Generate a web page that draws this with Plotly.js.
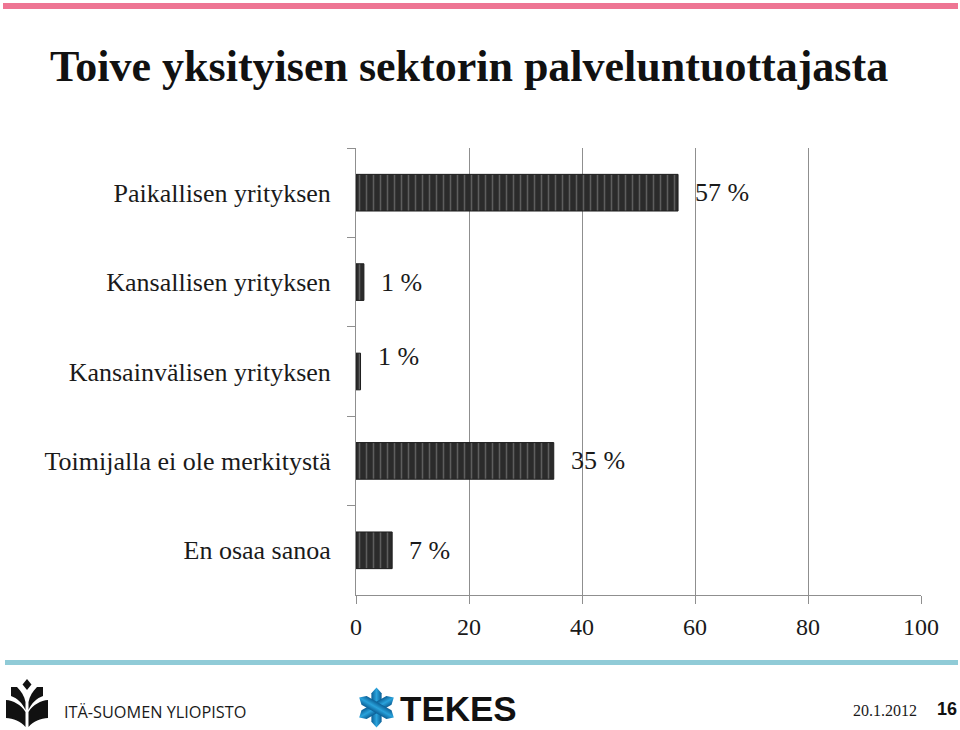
<!DOCTYPE html>
<html><head><meta charset="utf-8">
<script src="https://cdn.plot.ly/plotly-3.0.1.min.js"></script>
<style>html,body{margin:0;padding:0;background:#fff}#chart{width:960px;height:730px}</style>
</head><body><div id="chart"></div>
<script>
const categories = ["Paikallisen yrityksen","Kansallisen yrityksen","Kansainvälisen yrityksen","Toimijalla ei ole merkitystä","En osaa sanoa"];
const values = [57, 1.4, 0.8, 35, 6.4];
const valueLabels = ["57 %","1 %","1 %","35 %","7 %"];
const xTicks = [0,20,40,60,80,100];

const W=960,H=730,L=356,R=39,T=148,B=135;
const pw=W-L-R, ph=H-T-B;
const px=x=>(x-L)/pw, py=y=>(H-B-y)/ph;
const serif='"Liberation Serif", "DejaVu Serif", serif';

const uefLogo='data:image/svg+xml;utf8,'+encodeURIComponent(
'<svg xmlns="http://www.w3.org/2000/svg" viewBox="0 0 48 52"><g fill="#111">'+
'<path d="M24 3 L28.5 8.5 L24 14 L19.5 8.5 Z"/>'+
'<path d="M8 11 L14 11 C18 15 21.5 20 22.5 26 L22.5 34 C19.5 27 14 22 8 20 Z"/>'+
'<path d="M40 11 L34 11 C30 15 26.5 20 25.5 26 L25.5 34 C28.5 27 34 22 40 20 Z"/>'+
'<path d="M3 24 C10 24.5 18 28.5 22.5 36 L22.5 51 C18 45 10 42.5 3 42 Z"/>'+
'<path d="M45 24 C38 24.5 30 28.5 25.5 36 L25.5 51 C30 45 38 42.5 45 42 Z"/>'+
'</g></svg>');
const tekesLogo='data:image/svg+xml;utf8,'+encodeURIComponent(
'<svg xmlns="http://www.w3.org/2000/svg" viewBox="0 0 40 40"><defs><linearGradient id="g" x1="0" y1="0" x2="1" y2="0"><stop offset="0" stop-color="#0b5f96"/><stop offset="0.5" stop-color="#2aa3dc"/><stop offset="1" stop-color="#0b5f96"/></linearGradient></defs>'+
'<g transform="translate(20 20)">'+
[0,60,120].map(a=>'<path transform="rotate('+a+')" d="M-5 -14 L0 -19.5 L5 -14 L5 14 L0 19.5 L-5 14 Z" fill="url(#g)"/>').join('')+
'</g></svg>');

const data=[{
  type:'bar', orientation:'h', x:values, y:categories,
  marker:{color:'#2b2b2b', line:{color:'#1e1e1e',width:1},
    pattern:{shape:'|', bgcolor:'#2b2b2b', fgcolor:'#5e5e5e', size:7, solidity:0.22}},
  hoverinfo:'x+y', showlegend:false
}];

const labelYShift=[0,0,15,0,0];
const annotations = categories.map((c,i)=>({
  x:values[i], y:c, xref:'x', yref:'y', text:valueLabels[i], showarrow:false,
  xanchor:'left', xshift:15, yshift:labelYShift[i], font:{family:serif,size:26,color:'#1a1a1a'}
}));
annotations.push(
  {xref:'paper',yref:'paper',x:px(62),y:py(712),xanchor:'left',yanchor:'middle',showarrow:false,
   text:'ITÄ-SUOMEN YLIOPISTO',font:{family:'"Open Sans", sans-serif',size:16.3,color:'#1a1a1a'}},
  {xref:'paper',yref:'paper',x:px(398),y:py(708),xanchor:'left',yanchor:'middle',showarrow:false,
   text:'<b>TEKES</b>',font:{family:'"Liberation Sans", Arial, sans-serif',size:35,color:'#111'}},
  {xref:'paper',yref:'paper',x:px(851),y:py(710),xanchor:'left',yanchor:'middle',showarrow:false,
   text:'20.1.2012',font:{family:serif,size:16,color:'#1a1a1a'}},
  {xref:'paper',yref:'paper',x:px(935),y:py(709),xanchor:'left',yanchor:'middle',showarrow:false,
   text:'<b>16</b>',font:{family:'"Liberation Sans", Arial, sans-serif',size:18,color:'#111'}}
);

const layout={
  width:W,height:H,paper_bgcolor:'#fff',plot_bgcolor:'#fff',
  margin:{l:L,r:R,t:T,b:B},
  title:{text:'<b>Toive yksityisen sektorin palveluntuottajasta</b>',x:50/W,xanchor:'left',xref:'container',
    y:1-66/H,yanchor:'middle',yref:'container',font:{family:serif,size:44,color:'#111'}},
  bargap:0.59,
  xaxis:{range:[0,100],tickvals:xTicks,ticktext:xTicks.map(String),showgrid:true,gridcolor:'#8f8f8f',gridwidth:1,
    zeroline:false,showline:true,linecolor:'#8f8f8f',linewidth:1,ticks:'outside',ticklen:8,tickcolor:'#8f8f8f',
    ticklabelstandoff:2,tickfont:{family:serif,size:24,color:'#1a1a1a'},fixedrange:true},
  yaxis:{type:'category',autorange:'reversed',showline:true,linecolor:'#8f8f8f',linewidth:1,
    ticks:'outside',tickson:'boundaries',ticklen:8,tickcolor:'#8f8f8f',showgrid:false,
    ticklabelstandoff:19,tickfont:{family:serif,size:26,color:'#1a1a1a'},fixedrange:true},
  shapes:[
    {type:'rect',xref:'paper',yref:'paper',x0:px(3),x1:px(958),y0:py(9),y1:py(3),fillcolor:'#ee7593',line:{width:0}},
    {type:'rect',xref:'paper',yref:'paper',x0:px(5),x1:px(958),y0:py(665),y1:py(660),fillcolor:'#90cbd7',line:{width:0}}
  ],
  images:[
    {source:uefLogo,xref:'paper',yref:'paper',x:px(3),y:py(676),sizex:48/pw,sizey:52/ph,xanchor:'left',yanchor:'top',sizing:'stretch',layer:'above'},
    {source:tekesLogo,xref:'paper',yref:'paper',x:px(356),y:py(687),sizex:41/pw,sizey:41/ph,xanchor:'left',yanchor:'top',sizing:'stretch',layer:'above'}
  ],
  annotations:annotations
};
Plotly.newPlot('chart',data,layout,{displayModeBar:false,staticPlot:true});
</script></body></html>
